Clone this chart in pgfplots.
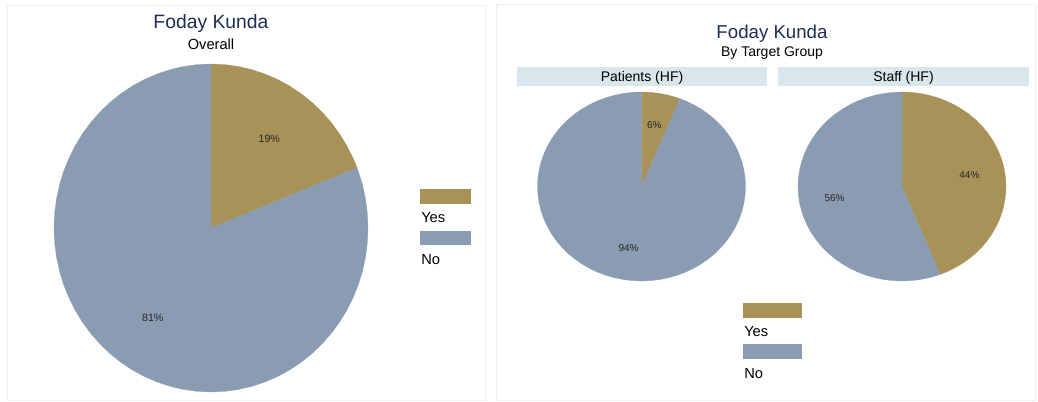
\documentclass[border=0pt]{standalone}
\usepackage{pgfplots}
\pgfplotsset{compat=1.18}
\usepackage{fontspec}
\setmainfont{Liberation Sans}
\definecolor{yescol}{RGB}{168,146,88}
\definecolor{nocol}{RGB}{138,156,178}
\definecolor{titcol}{RGB}{30,45,85}
\definecolor{stripcol}{RGB}{217,230,235}
\definecolor{framecol}{RGB}{236,241,243}
\pgfplotsset{pie/.style={scale only axis, hide axis, xmin=-1, xmax=1, ymin=-1, ymax=1, clip=false, anchor=center}}
\begin{document}
\begin{tikzpicture}[x=0.75pt,y=0.75pt]
\useasboundingbox (0,0) rectangle (1038,402);
% panel frames
\draw[framecol, line width=0.75pt] (7,1) rectangle (485,396);
\draw[framecol, line width=0.75pt] (496,1) rectangle (1035,397);
% ---------- Overall ----------
\node[anchor=base, text=titcol, font=\fontsize{14.5pt}{17pt}\selectfont] at (211,373) {Foday Kunda};
\node[anchor=base, font=\fontsize{11pt}{13pt}\selectfont] at (211,352) {Overall};
\begin{axis}[pie, at={(158.25pt,130.5pt)}, width=235.5pt, height=246pt]
% Yes 19%
\addplot[fill=yescol, draw=yescol, line width=0.2pt, data cs=polar] coordinates {(0,0) (90,1) (85,1) (80,1) (75,1) (70,1) (65,1) (60,1) (55,1) (50,1) (45,1) (40,1) (35,1) (30,1) (25,1) (21.6,1)} -- cycle;
% No 81%
\addplot[fill=nocol, draw=nocol, line width=0.2pt, data cs=polar] coordinates {(0,0) (21.6,1) (20,1) (15,1) (10,1) (5,1) (0,1) (-5,1) (-10,1) (-15,1) (-20,1) (-25,1) (-30,1) (-35,1) (-40,1) (-45,1) (-50,1) (-55,1) (-60,1) (-65,1) (-70,1) (-75,1) (-80,1) (-85,1) (-90,1) (-95,1) (-100,1) (-105,1) (-110,1) (-115,1) (-120,1) (-125,1) (-130,1) (-135,1) (-140,1) (-145,1) (-150,1) (-155,1) (-160,1) (-165,1) (-170,1) (-175,1) (-180,1) (-185,1) (-190,1) (-195,1) (-200,1) (-205,1) (-210,1) (-215,1) (-220,1) (-225,1) (-230,1) (-235,1) (-240,1) (-245,1) (-250,1) (-255,1) (-260,1) (-265,1) (-270,1)} -- cycle;
\node[font=\fontsize{8pt}{9pt}\selectfont, text=black!85] at (axis cs:0.371,0.546) {19\%};
\node[font=\fontsize{8pt}{9pt}\selectfont, text=black!85] at (axis cs:-0.371,-0.546) {81\%};
\end{axis}
% legend left
\fill[yescol] (420,198) rectangle (471,213);
\node[anchor=base west, inner sep=0pt, font=\fontsize{11pt}{13pt}\selectfont] at (421,179) {Yes};
\fill[nocol] (420,157) rectangle (471,171);
\node[anchor=base west, inner sep=0pt, font=\fontsize{11pt}{13pt}\selectfont] at (421,137) {No};
% ---------- By target group ----------
\node[anchor=base, text=titcol, font=\fontsize{14pt}{17pt}\selectfont] at (772,363.5) {Foday Kunda};
\node[anchor=base, font=\fontsize{10.5pt}{12pt}\selectfont] at (772,345) {By Target Group};
\fill[stripcol] (517,316) rectangle (767,334.5);
\fill[stripcol] (778,316) rectangle (1029,334.5);
\node[anchor=base, font=\fontsize{10.5pt}{12pt}\selectfont] at (642,320) {Patients (HF)};
\node[anchor=base, font=\fontsize{10.5pt}{12pt}\selectfont] at (903.5,320) {Staff (HF)};
\begin{axis}[pie, at={(481.125pt,161.625pt)}, width=156pt, height=141.75pt]
% Yes 6%
\addplot[fill=yescol, draw=yescol, line width=0.2pt, data cs=polar] coordinates {(0,0) (90,1) (85,1) (80,1) (75,1) (70,1) (68.4,1)} -- cycle;
% No 94%
\addplot[fill=nocol, draw=nocol, line width=0.2pt, data cs=polar] coordinates {(0,0) (68.4,1) (65,1) (60,1) (55,1) (50,1) (45,1) (40,1) (35,1) (30,1) (25,1) (20,1) (15,1) (10,1) (5,1) (0,1) (-5,1) (-10,1) (-15,1) (-20,1) (-25,1) (-30,1) (-35,1) (-40,1) (-45,1) (-50,1) (-55,1) (-60,1) (-65,1) (-70,1) (-75,1) (-80,1) (-85,1) (-90,1) (-95,1) (-100,1) (-105,1) (-110,1) (-115,1) (-120,1) (-125,1) (-130,1) (-135,1) (-140,1) (-145,1) (-150,1) (-155,1) (-160,1) (-165,1) (-170,1) (-175,1) (-180,1) (-185,1) (-190,1) (-195,1) (-200,1) (-205,1) (-210,1) (-215,1) (-220,1) (-225,1) (-230,1) (-235,1) (-240,1) (-245,1) (-250,1) (-255,1) (-260,1) (-265,1) (-270,1)} -- cycle;
\node[font=\fontsize{7.5pt}{9pt}\selectfont, text=black!85] at (axis cs:0.124,0.648) {6\%};
\node[font=\fontsize{7.5pt}{9pt}\selectfont, text=black!85] at (axis cs:-0.124,-0.648) {94\%};
\end{axis}
\begin{axis}[pie, at={(676.5pt,161.625pt)}, width=156pt, height=141.75pt]
% Yes 44%
\addplot[fill=yescol, draw=yescol, line width=0.2pt, data cs=polar] coordinates {(0,0) (90,1) (85,1) (80,1) (75,1) (70,1) (65,1) (60,1) (55,1) (50,1) (45,1) (40,1) (35,1) (30,1) (25,1) (20,1) (15,1) (10,1) (5,1) (0,1) (-5,1) (-10,1) (-15,1) (-20,1) (-25,1) (-30,1) (-35,1) (-40,1) (-45,1) (-50,1) (-55,1) (-60,1) (-65,1) (-68.4,1)} -- cycle;
% No 56%
\addplot[fill=nocol, draw=nocol, line width=0.2pt, data cs=polar] coordinates {(0,0) (-68.4,1) (-70,1) (-75,1) (-80,1) (-85,1) (-90,1) (-95,1) (-100,1) (-105,1) (-110,1) (-115,1) (-120,1) (-125,1) (-130,1) (-135,1) (-140,1) (-145,1) (-150,1) (-155,1) (-160,1) (-165,1) (-170,1) (-175,1) (-180,1) (-185,1) (-190,1) (-195,1) (-200,1) (-205,1) (-210,1) (-215,1) (-220,1) (-225,1) (-230,1) (-235,1) (-240,1) (-245,1) (-250,1) (-255,1) (-260,1) (-265,1) (-270,1)} -- cycle;
\node[font=\fontsize{7.5pt}{9pt}\selectfont, text=black!85] at (axis cs:0.648,0.124) {44\%};
\node[font=\fontsize{7.5pt}{9pt}\selectfont, text=black!85] at (axis cs:-0.648,-0.124) {56\%};
\end{axis}
% legend right
\fill[yescol] (743,84) rectangle (802,99);
\node[anchor=base west, inner sep=0pt, font=\fontsize{11pt}{13pt}\selectfont] at (744,65) {Yes};
\fill[nocol] (743,43) rectangle (802,58);
\node[anchor=base west, inner sep=0pt, font=\fontsize{11pt}{13pt}\selectfont] at (744,23) {No};
\end{tikzpicture}
\end{document}
